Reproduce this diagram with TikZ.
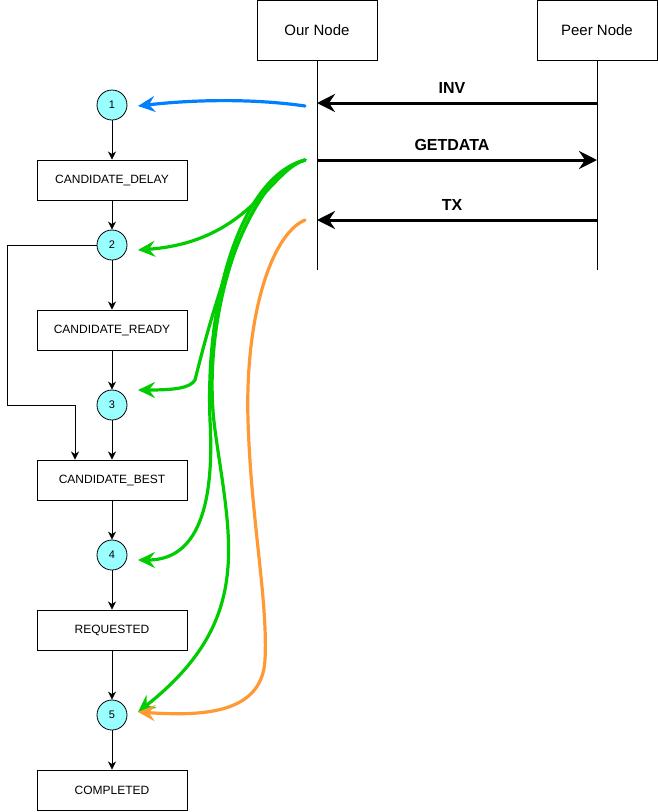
\documentclass[tikz,border=0pt]{standalone}
\usepackage{fontspec}
\setmainfont{Liberation Sans}
\usetikzlibrary{arrows.meta}
\definecolor{numfill}{HTML}{99FFFF}
\definecolor{invblue}{HTML}{007FFF}
\definecolor{getgreen}{HTML}{00CC00}
\definecolor{txorange}{HTML}{FF9933}
\begin{document}
\begin{tikzpicture}[x=1pt,y=-1pt,
        actor/.style={draw,line width=1pt,minimum width=120pt,minimum height=60pt,font=\fontsize{15}{17}\selectfont},
        state/.style={draw,line width=1pt,minimum width=150pt,minimum height=40pt,font=\fontsize{12}{14}\selectfont},
        num/.style={circle,draw,fill=numfill,line width=0.8pt,minimum size=30pt,inner sep=0pt,font=\fontsize{11}{13}\selectfont},
        flow/.style={line width=0.8pt,-{Stealth[length=8pt,width=8pt,inset=2.5pt]}},
        msg/.style={line width=3pt,-{Stealth[length=18pt,width=18pt,inset=6pt]}},
        hook/.style={line width=3.2pt,line cap=round,-{Stealth[length=17pt,width=16pt,inset=6pt]}},
        lbl/.style={font=\bfseries\fontsize{16}{18}\selectfont,above=5pt,xshift=-5pt}]
            \useasboundingbox (0,0) rectangle (658,812);

            \node[actor] (our) at (317,30) {Our Node};
            \node[actor] (peer) at (597,30) {Peer Node};
            \coordinate (ourend) at (317,270);
            \coordinate (peerend) at (597,270);
            \draw[line width=1pt] (our) -- (ourend);
            \draw[line width=1pt] (peer) -- (peerend);

            \coordinate (invP) at (597,103);
            \coordinate (invO) at (317,103);
            \coordinate (getO) at (317,160);
            \coordinate (getP) at (597,160);
            \coordinate (txP) at (597,220);
            \coordinate (txO) at (317,220);
            \draw[msg] (invP) -- node[lbl] {INV} (invO);
            \draw[msg] (getO) -- node[lbl] {GETDATA} (getP);
            \draw[msg] (txP) -- node[lbl] {TX} (txO);

            \node[num] (n1) at (112,105) {1};
            \node[state] (delay) at (112,180) {CANDIDATE\_DELAY};
            \node[num] (n2) at (112,245) {2};
            \node[state] (ready) at (112,330) {CANDIDATE\_READY};
            \node[num] (n3) at (112,405) {3};
            \node[state] (best) at (112,480) {CANDIDATE\_BEST};
            \node[num] (n4) at (112,555) {4};
            \node[state] (requested) at (112,630) {REQUESTED};
            \node[num] (n5) at (112,715) {5};
            \node[state] (completed) at (112,790) {COMPLETED};

            \draw[flow] (n1) -- (delay);
            \draw[flow] (delay) -- (n2);
            \draw[flow] (n2) -- (ready);
            \draw[flow] (ready) -- (n3);
            \draw[flow] (n3) -- (best);
            \draw[flow] (best) -- (n4);
            \draw[flow] (n4) -- (requested);
            \draw[flow] (requested) -- (n5);
            \draw[flow] (n5) -- (completed);
            \draw[flow] (n2.west) -| (7,405) -| ([xshift=-37]best.north);

            \coordinate (blueS) at (305,106);
            \coordinate (greenS) at (305,160);
            \coordinate (orangeS) at (305,220);
            \coordinate (e1) at (138,106);
            \coordinate (e2) at (138,250);
            \coordinate (e3) at (138,390);
            \coordinate (e4) at (138,560);
            \coordinate (e5) at (138,712);

            \draw[hook,invblue] (blueS) .. controls (250,98) and (190,100) .. (e1);
            \draw[hook,getgreen] (greenS) .. controls (270,170) and (250,242) .. (e2);
            \draw[hook,getgreen] (greenS) .. controls (250,175) and (215,300) .. (195,380) .. controls (190,388) and (175,390) .. (e3);
            \draw[hook,getgreen] (greenS) .. controls (245,175) and (205,290) .. (210,420) .. controls (216,530) and (185,560) .. (e4);
            \draw[hook,getgreen] (greenS) .. controls (245,178) and (200,320) .. (215,430) .. controls (230,540) and (255,620) .. (e5);
            \draw[hook,txorange] (orangeS) .. controls (270,235) and (245,320) .. (248,420) .. controls (251,520) and (268,600) .. (265,660) .. controls (262,715) and (200,716) .. (e5);

        \end{tikzpicture}
\end{document}
